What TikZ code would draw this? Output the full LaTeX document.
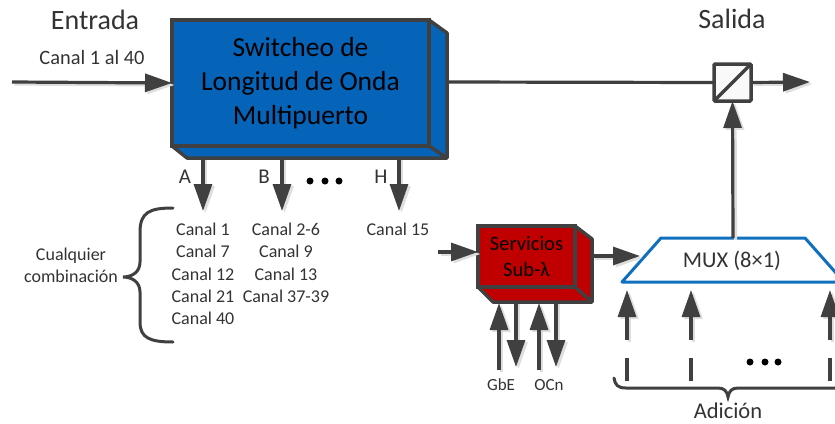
\documentclass[tikz,border=0pt]{standalone}
\usepackage{fontspec}
\setmainfont{Carlito}
\usetikzlibrary{arrows.meta}
\definecolor{dk}{HTML}{404040}
\definecolor{swblue}{HTML}{0563B8}
\definecolor{muxblue}{HTML}{1070BE}
\definecolor{svred}{HTML}{C00000}
\tikzset{
  x=1pt,y=-1pt,
  conn/.style={draw=dk,line width=3.2pt,-{Triangle[length=27pt,width=18pt]},
    preaction={draw=black!13,line width=3.2pt,-{Triangle[length=27pt,width=18pt]},transform canvas={shift={(2.5pt,-2pt)}}}},
  wire/.style={draw=dk,line width=3.2pt},
  face/.style={draw=dk,line width=3.5pt,line join=round},
  lbl/.style={inner sep=0pt,outer sep=0pt,text=black!80,align=center},
  chan/.style={lbl,font=\fontsize{18}{22.3}\selectfont},
  dotmark/.style={circle,fill=black,inner sep=0pt,minimum size=7pt},
  brace/.style={draw=dk,line width=3pt,line cap=round}
}
\begin{document}
\begin{tikzpicture}
\useasboundingbox (0,0) rectangle (835,423);
\clip (0,0) rectangle (835,423);
% coordinates
\coordinate (in) at (12,82);
\coordinate (swout) at (447,82);
\coordinate (aout) at (203,158); \coordinate (aend) at (203,211);
\coordinate (bout) at (282,158); \coordinate (bend) at (282,211);
\coordinate (hout) at (399,158); \coordinate (hend) at (399,211);
\coordinate (svin) at (438,252); \coordinate (svwest) at (478,252);
\coordinate (svout) at (592,256); \coordinate (muxin) at (640,256);
\coordinate (end) at (810,82);
\coordinate (muxtop) at (733,238);
% switch box
\draw[face,fill=swblue] (172,20) -- (429,20) -- (447,33) -- (447,158) -- (187,158) -- (172,146) -- cycle;
\node[draw=dk,line width=3.5pt,fill=swblue,minimum width=257pt,minimum height=126pt,inner sep=0pt,outer sep=0pt,
      align=center,font=\fontsize{27.5}{34}\selectfont,text=black] (sw) at (300.5,83) {Switcheo de\\Longitud de Onda\\Multipuerto};
\draw[face] (429,146) -- (447,158);
% service box
\draw[face,fill=svred] (478,226) -- (575,226) -- (592,239) -- (592,302) -- (493,302) -- (478,287) -- cycle;
\node[draw=dk,line width=3.5pt,fill=svred,minimum width=97pt,minimum height=61pt,inner sep=0pt,outer sep=0pt,
      align=center,font=\fontsize{20.5}{26}\selectfont,text=black] (sv) at (526.5,256.5) {Servicios\\Sub-λ};
\draw[face] (575,287) -- (592,302);
% mux
\draw[draw=muxblue,line width=3pt,line join=round] (622,282) -- (661,238) -- (805,238) -- (844,282) -- cycle;
\node[lbl,font=\fontsize{22.5}{26}\selectfont] (mux) at (732,261) {MUX (8×1)};
% combiner
\node[draw=dk,line width=3.5pt,fill=white!95!gray,minimum size=37pt,inner sep=0pt,outer sep=0pt,rounded corners=1pt] (cmb) at (732.5,82.5) {};
\draw[dk,line width=3.5pt] (cmb.south west) -- (cmb.north east);
% connectors
\draw[conn] (in) -- (sw.west);
\draw[wire] (swout) -- (cmb.west);
\draw[conn] (cmb.east) -- (end);
\draw[conn] (muxtop) -- (cmb.south);
\draw[conn] (aout) -- (aend);
\draw[conn] (bout) -- (bend);
\draw[conn] (hout) -- (hend);
\draw[conn] (svin) -- (svwest);
\draw[conn] (svout) -- (muxin);
% tributary arrows at service box
\foreach \n/\x in {g/499,o/539}{
  \coordinate (\n t) at (\x,370); \coordinate (\n h) at (\x,303);
  \draw[conn] (\n t) -- (\n h);}
\foreach \n/\x in {p/516,q/556}{
  \coordinate (\n t) at (\x,302); \coordinate (\n h) at (\x,367);
  \draw[conn] (\n t) -- (\n h);}
% add arrows
\foreach \n/\x in {u/627,v/691,w/830}{
  \coordinate (\n t) at (\x,340); \coordinate (\n h) at (\x,290);
  \coordinate (\n a) at (\x,358); \coordinate (\n b) at (\x,381);
  \draw[conn] (\n t) -- (\n h);
  \draw[wire] (\n a) -- (\n b);}
% dots
\node[dotmark] (d1) at (310,181) {};
\node[dotmark] (d2) at (325,181) {};
\node[dotmark] (d3) at (339,181) {};
\node[dotmark] (d4) at (750,362) {};
\node[dotmark] (d5) at (765,362) {};
\node[dotmark] (d6) at (778,362) {};
% braces
\draw[brace] (173,208) .. controls (150,208) and (140,212) .. (140,232) -- (140,262)
   .. controls (140,272) and (132,277) .. (123,277)
   .. controls (132,277) and (140,282) .. (140,292) -- (140,322)
   .. controls (140,338) and (150,342) .. (173,342);
\draw[brace] (614,378) .. controls (615,385) and (618,388) .. (626,388) -- (718,388)
   .. controls (724,388) and (727,391) .. (728,397)
   .. controls (729,391) and (732,388) .. (738,388) -- (840,388);
% text
\node[lbl,font=\fontsize{28}{32}\selectfont] (t1) at (95,20) {Entrada};
\node[lbl,font=\fontsize{28}{32}\selectfont] (t2) at (732,19) {Salida};
\node[lbl,font=\fontsize{20.4}{24}\selectfont] (t3) at (92,57) {Canal 1 al 40};
\node[lbl,font=\fontsize{21}{24}\selectfont] (la) at (185,177) {A};
\node[lbl,font=\fontsize{21}{24}\selectfont] (lb) at (264,177) {B};
\node[lbl,font=\fontsize{21}{24}\selectfont] (lh) at (381,177) {H};
\node[chan,anchor=north] (c1) at (203,223) {Canal 1\\Canal 7\\Canal 12\\Canal 21\\Canal 40};
\node[chan,anchor=north] (c2) at (286,223) {Canal 2-6\\Canal 9\\Canal 13\\Canal 37-39};
\node[chan] (c3) at (398,229) {Canal 15};
\node[chan] (cc) at (71,265) {Cualquier\\combinación};
\node[lbl,font=\fontsize{17}{20}\selectfont] (gb) at (501,385) {GbE};
\node[lbl,font=\fontsize{17}{20}\selectfont] (oc) at (549,385) {OCn};
\node[lbl,font=\fontsize{22.5}{26}\selectfont] (ad) at (728,411) {Adición};
\end{tikzpicture}
\end{document}
